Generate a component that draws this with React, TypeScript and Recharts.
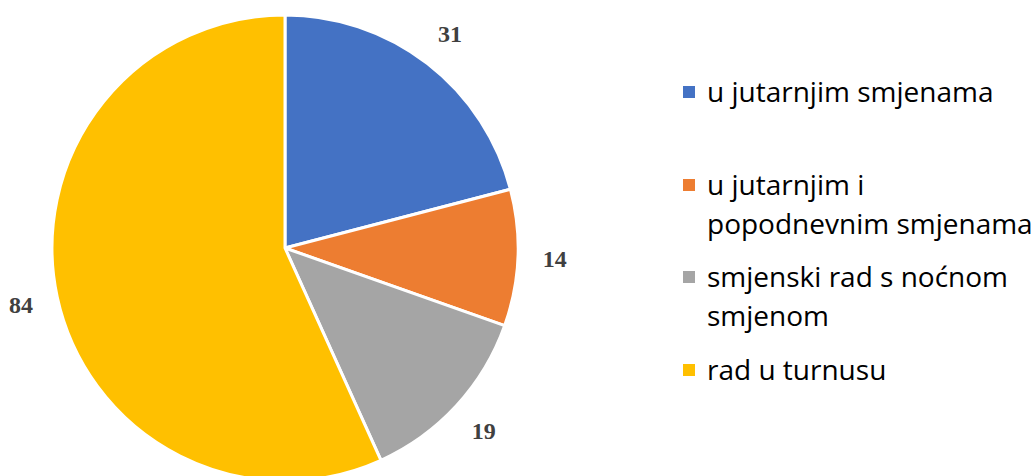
import { PieChart, Pie, Cell, Legend } from "recharts";

const categories = [
  "u jutarnjim smjenama",
  "u jutarnjim i popodnevnim smjenama",
  "smjenski rad s noćnom smjenom",
  "rad u turnusu",
];
const values = [31, 14, 19, 84];
const colors = ["#4472C4", "#ED7D31", "#A5A5A5", "#FFC000"];
// legend text split into lines as in the original
const legendLines = [
  ["u jutarnjim smjenama"],
  ["u jutarnjim i", "popodnevnim smjenama"],
  ["smjenski rad s noćnom", "smjenom"],
  ["rad u turnusu"],
];

const data = categories.map((name, i) => ({ name, value: values[i] }));

const RAD = Math.PI / 180;

function renderLabel(props: any) {
  const { cx, cy, midAngle, outerRadius, value } = props;
  const r = outerRadius + 37;
  const x = cx + r * Math.cos(-midAngle * RAD);
  const y = cy + r * Math.sin(-midAngle * RAD);
  return (
    <text
      x={x}
      y={y}
      fill="#404040"
      textAnchor="middle"
      dominantBaseline="central"
      fontFamily="'Liberation Serif', serif"
      fontWeight="bold"
      fontSize={24}
    >
      {value}
    </text>
  );
}

// item top offsets inside legend box
const itemTops = [0, 93, 185, 278];

function LegendBox() {
  return (
    <div style={{ position: "relative", width: 348, height: 320, fontFamily: "'Open Sans', sans-serif" }}>
      {legendLines.map((lines, i) => (
        <div
          key={categories[i]}
          style={{
            position: "absolute",
            top: itemTops[i],
            left: 0,
            display: "flex",
            alignItems: "flex-start",
          }}
        >
          <span
            style={{
              width: 12,
              height: 12,
              background: colors[i],
              marginTop: 14,
              marginRight: 12,
              flexShrink: 0,
            }}
          />
          <span style={{ fontSize: 28, lineHeight: "39px", color: "#000", whiteSpace: "nowrap" }}>
            {lines.map((l, j) => (
              <div key={j}>{l}</div>
            ))}
          </span>
        </div>
      ))}
    </div>
  );
}

export default function App() {
  return (
    <div style={{ position: "absolute", left: 0, top: 0, width: 1031, height: 476, background: "#fff" }}>
      <PieChart width={1031} height={476} margin={{ top: 0, right: 0, bottom: 0, left: 0 }}>
        <Pie
          data={data}
          dataKey="value"
          nameKey="name"
          cx={285}
          cy={248}
          outerRadius={233}
          startAngle={90}
          endAngle={-270}
          stroke="#fff"
          strokeWidth={3}
          label={renderLabel}
          labelLine={false}
          isAnimationActive={false}
        >
          {data.map((_, i) => (
            <Cell key={i} fill={colors[i]} />
          ))}
        </Pie>
        <Legend
          layout="vertical"
          align="right"
          verticalAlign="top"
          wrapperStyle={{ left: 683, top: 72, width: 348 }}
          content={() => <LegendBox />}
        />
      </PieChart>
    </div>
  );
}
